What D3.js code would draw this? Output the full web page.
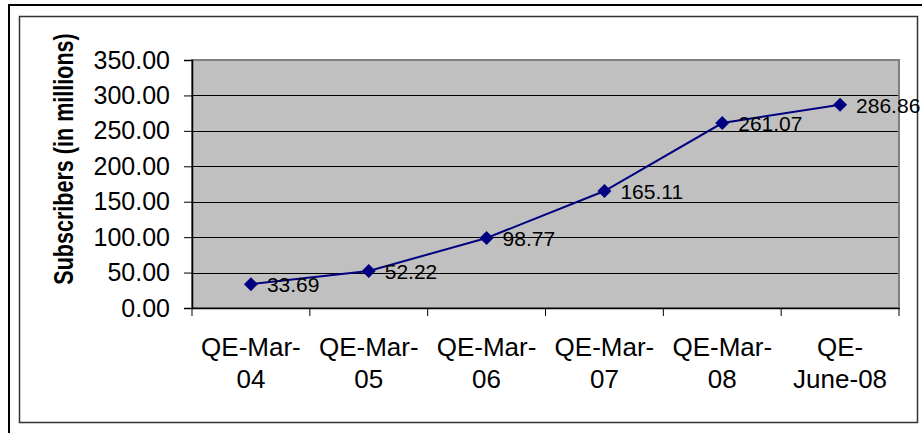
<!DOCTYPE html>
<html><head><meta charset="utf-8">
<script src="https://cdn.jsdelivr.net/npm/d3@7"></script>
<style>body{margin:0;background:#fff;}svg{display:block;font-family:"Liberation Sans",Arial,sans-serif;}</style>
</head><body>
<svg id="c" width="922" height="433"></svg>
<script>
const categories = [["QE-Mar-","04"],["QE-Mar-","05"],["QE-Mar-","06"],["QE-Mar-","07"],["QE-Mar-","08"],["QE-","June-08"]];
const values = [33.69, 52.22, 98.77, 165.11, 261.07, 286.86];
const yTicks = [0,50,100,150,200,250,300,350];
const yTitle = "Subscribers (in millions)";

const svg = d3.select("#c");
// outer and inner borders
svg.append("rect").attr("x",9).attr("y",5).attr("width",930).attr("height",440).attr("fill","none").attr("stroke","#000").attr("stroke-width",2);
svg.append("rect").attr("x",19.5).attr("y",16.5).attr("width",898).attr("height",406).attr("fill","none").attr("stroke","#333").attr("stroke-width",1.5);

const L=192, R=899, T=60, B=308;
const x = d3.scaleBand().domain(d3.range(categories.length)).range([L,R]);
const y = d3.scaleLinear().domain([0,350]).range([B,T]);

svg.append("rect").attr("x",L).attr("y",T).attr("width",R-L).attr("height",B-T).attr("fill","#c0c0c0");
// gridlines
svg.append("g").selectAll("line").data(yTicks.filter(d=>d>0&&d<350)).join("line")
  .attr("x1",L).attr("x2",R).attr("y1",d=>Math.round(y(d))+0.5).attr("y2",d=>Math.round(y(d))+0.5)
  .attr("stroke","#000").attr("stroke-width",1);
svg.append("rect").attr("x",L).attr("y",T).attr("width",R-L).attr("height",B-T).attr("fill","none").attr("stroke","#808080").attr("stroke-width",2);

// y axis
const ya = svg.append("g").attr("transform",`translate(${L},0)`)
  .call(d3.axisLeft(y).tickValues(yTicks).tickFormat(d3.format(".2f")).tickSize(8).tickPadding(14));
ya.select(".domain").attr("stroke","#000").attr("stroke-width",1.5);
ya.selectAll(".tick line").attr("stroke","#000");
ya.selectAll("text").attr("font-size",25).attr("fill","#000").attr("font-family","Liberation Sans, Arial, sans-serif");

// x axis
const xa = svg.append("g").attr("transform",`translate(0,${B})`)
  .call(d3.axisBottom(x).tickSize(0).tickFormat(""));
xa.select(".domain").attr("stroke","#000").attr("stroke-width",1.5);
const edges = d3.range(categories.length+1).map(i=>L+i*x.step());
xa.selectAll("line.edge").data(edges).join("line").attr("class","edge")
  .attr("x1",d=>d).attr("x2",d=>d).attr("y1",0).attr("y2",8).attr("stroke","#000");
const xl = svg.append("g");
categories.forEach((c,i)=>{
  const t = xl.append("text").attr("x",x(i)+x.bandwidth()/2).attr("y",356)
    .attr("text-anchor","middle").attr("font-size",26).attr("fill","#000");
  t.append("tspan").attr("x",x(i)+x.bandwidth()/2).attr("dy",0).text(c[0]);
  t.append("tspan").attr("x",x(i)+x.bandwidth()/2).attr("dy",32).text(c[1]);
});

// y title
svg.append("text").attr("transform",`translate(73,159) rotate(-90) scale(0.77,1)`)
  .attr("text-anchor","middle").attr("font-size",28).attr("font-weight","bold").attr("fill","#000").text(yTitle);

// line
const cx = i=>x(i)+x.bandwidth()/2;
svg.append("path").datum(values).attr("fill","none").attr("stroke","#000080").attr("stroke-width",2)
  .attr("d",d3.line().x((d,i)=>cx(i)).y(d=>y(d)));
svg.append("g").selectAll("path").data(values).join("path")
  .attr("transform",(d,i)=>`translate(${cx(i)},${y(d)})`)
  .attr("d","M0,-7L7,0L0,7L-7,0Z").attr("fill","#000080");
svg.append("g").selectAll("text").data(values).join("text")
  .attr("x",(d,i)=>cx(i)+16).attr("y",d=>y(d)+8)
  .attr("font-size",21).attr("fill","#000").text(d=>d.toFixed(2));
</script>
</body></html>
